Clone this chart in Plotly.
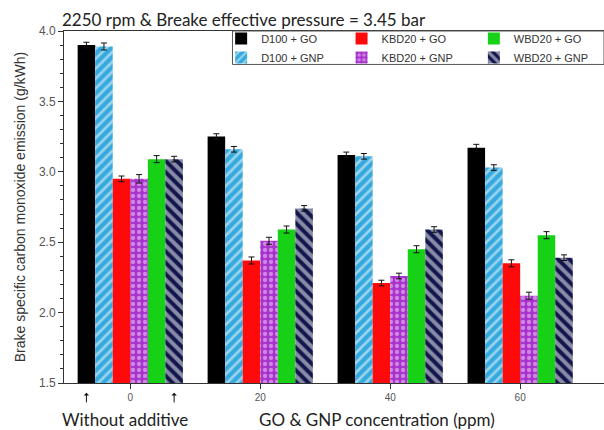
import plotly.graph_objects as go

# GO / GNP concentration (ppm)
concentration = [0, 20, 40, 60]

# Brake specific CO emission (g/kWh) for each fuel + additive
d100_go = [3.90, 3.25, 3.12, 3.17]
d100_gnp = [3.89, 3.16, 3.11, 3.03]
kbd20_go = [2.95, 2.37, 2.21, 2.35]
kbd20_gnp = [2.95, 2.51, 2.26, 2.12]
wbd20_go = [3.09, 2.59, 2.45, 2.55]
wbd20_gnp = [3.09, 2.74, 2.59, 2.39]

# error bars (g/kWh)
d100_go_err = [0.02, 0.02, 0.02, 0.025]
d100_gnp_err = [0.025, 0.02, 0.02, 0.02]
kbd20_go_err = [0.02, 0.025, 0.02, 0.025]
kbd20_gnp_err = [0.03, 0.025, 0.02, 0.025]
wbd20_go_err = [0.025, 0.025, 0.025, 0.025]
wbd20_gnp_err = [0.02, 0.02, 0.02, 0.02]

series_names = ["D100 + GO", "D100 + GNP", "KBD20 + GO",
                "KBD20 + GNP", "WBD20 + GO", "WBD20 + GNP"]
tick_labels = ["0", "20", "40", "60"]

BARGAP = 0.19

# GNP bars: coloured background with white hatching
styles = [
    dict(color="#000000"),
    dict(color="#35a9de",
         pattern=dict(shape="/", fgcolor="#ffffff", bgcolor="#35a9de",
                      size=7, solidity=0.38)),
    dict(color="#ff0a0a"),
    dict(color="#a833cc",
         pattern=dict(shape=".", fgcolor="#f8dcfb", bgcolor="#a833cc",
                      size=6, solidity=0.4)),
    dict(color="#16d116"),
    dict(color="#12164c",
         pattern=dict(shape="\\", fgcolor="#ffffff", bgcolor="#12164c",
                      size=8, solidity=0.5)),
]
values = [d100_go, d100_gnp, kbd20_go, kbd20_gnp, wbd20_go, wbd20_gnp]
errors = [d100_go_err, d100_gnp_err, kbd20_go_err, kbd20_gnp_err,
          wbd20_go_err, wbd20_gnp_err]
legends = ["legend", "legend", "legend2", "legend2", "legend3", "legend3"]

fig = go.Figure()
for name, vals, errs, sty, lg in zip(series_names, values, errors, styles, legends):
    fig.add_trace(go.Bar(
        x=concentration, y=vals, name=name, legend=lg,
        marker=dict(line=dict(width=0), **sty),
        error_y=dict(type="data", array=errs, color="#111111",
                     thickness=1, width=3),
    ))

# arrows under the first and last bar of the 0 ppm group
group_w = 20 * (1 - BARGAP)
bar_w = group_w / 6
for xpos in (concentration[0] - 2.5 * bar_w, concentration[0] + 2.5 * bar_w):
    fig.add_annotation(x=xpos, xref="x", y=-0.028, yref="paper",
                       text="", showarrow=True, ax=0, ay=11,
                       arrowhead=1, arrowsize=0.9, arrowwidth=1,
                       arrowcolor="#111111")

fig.add_annotation(x=-0.007, xref="paper", y=-0.105, yref="paper",
                   xanchor="left", yanchor="middle", showarrow=False,
                   text="Without additive",
                   font=dict(family="Lato", size=17, color="#222222"))
fig.add_annotation(x=0.579, xref="paper", y=-0.105, yref="paper",
                   xanchor="center", yanchor="middle", showarrow=False,
                   text="GO &amp; GNP concentration (ppm)",
                   font=dict(family="Lato", size=17, color="#222222"))

# frame around the three legend columns
fig.add_shape(type="rect", xref="paper", yref="paper",
              x0=0.312, x1=1.0, y0=0.905, y1=1.0,
              line=dict(color="#555555", width=1))

legend_common = dict(orientation="v", yanchor="top", y=1.02, xanchor="left",
                     bgcolor="rgba(0,0,0,0)", borderwidth=0,
                     font=dict(family="Liberation Sans, Arial", size=11,
                               color="#333333"),
                     itemwidth=30, tracegroupgap=0)

fig.update_layout(
    width=604, height=430,
    margin=dict(l=64, r=0, t=31, b=47),
    paper_bgcolor="white", plot_bgcolor="white",
    barmode="group", bargap=BARGAP, bargroupgap=0,
    title=dict(text="2250 rpm &amp; Breake effective pressure = 3.45 bar",
               x=62 / 604, xanchor="left", xref="container",
               y=1 - 20 / 430, yanchor="middle", yref="container",
               font=dict(family="Lato", size=17, color="#222222")),
    legend=dict(x=0.291, **legend_common),
    legend2=dict(x=0.514, **legend_common),
    legend3=dict(x=0.759, **legend_common),
    xaxis=dict(range=[-10.2, 72.9], tickvals=concentration, ticktext=tick_labels,
               ticks="outside", ticklen=5, tickcolor="#333333",
               showline=True, linecolor="#333333", linewidth=1, mirror=True,
               showgrid=False, zeroline=False,
               tickfont=dict(family="Liberation Sans, Arial", size=10,
                             color="#555555")),
    yaxis=dict(range=[1.5, 4.0], dtick=0.5, tickformat=".1f",
               ticks="outside", ticklen=5, tickcolor="#333333",
               minor=dict(dtick=0.1, ticks="outside", ticklen=3,
                          tickcolor="#333333"),
               showline=True, linecolor="#333333", linewidth=1, mirror=False,
               showgrid=False, zeroline=False,
               tickfont=dict(family="Liberation Sans, Arial", size=12,
                             color="#555555"),
               title=dict(text="Brake specific carbon monoxide emission (g/kWh)",
                          standoff=10,
                          font=dict(family="Liberation Sans, Arial", size=14,
                                    color="#333333"))),
)

fig.write_html("out.html")
